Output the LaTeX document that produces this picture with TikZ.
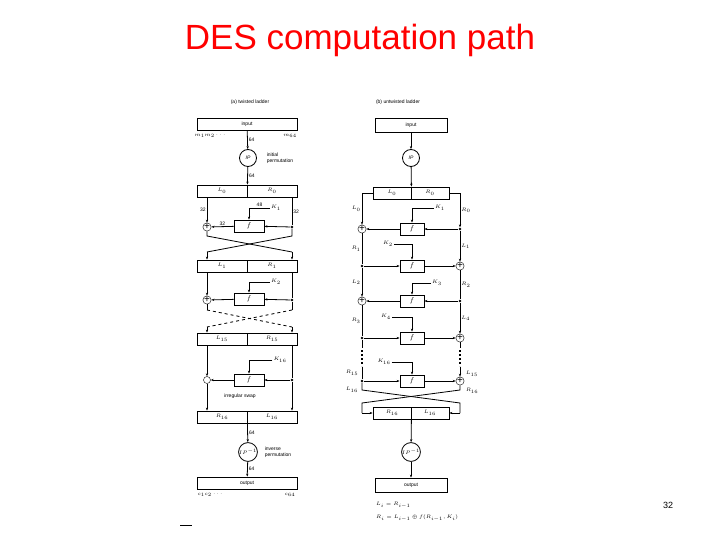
\documentclass[tikz,border=0pt]{standalone}
\usepackage{fontspec}
\setmainfont{Liberation Sans}
\usetikzlibrary{arrows.meta}
\begin{document}
\begin{tikzpicture}[x=1pt,y=-1pt,
  bx/.style={draw,thick,minimum height=12pt,inner sep=0pt,font=\tiny},
  fb/.style={draw,thick,minimum width=30pt,minimum height=12pt,inner sep=0pt,font=\scriptsize\itshape},
  ipc/.style={draw,thick,circle,minimum size=17pt,inner sep=0pt,font=\tiny\itshape},
  xo/.style={draw,circle,minimum size=7pt,inner sep=0pt},
  dt/.style={circle,fill,inner sep=1pt},
  lb/.style={font=\tiny,inner sep=1pt},
  ar/.style={-{Stealth[length=3pt]},thick},
  ln/.style={thick}]
\useasboundingbox (0,0) rectangle (720,540);
\node[text=red,font=\fontsize{35}{40}\selectfont] (title) at (360,40) {DES computation path};
\node[font=\small] (pg) at (668,505) {32};
\node[lb] (t1) at (250,102) {(a) twisted ladder};
\node[lb] (t2) at (398,102) {(b) untwisted ladder};
%% LEFT
\node[bx,minimum width=100pt] (in1) at (247,124) {input};
\node[lb] (m1) at (210,136) {$m_1 m_2\cdots$};
\node[lb] (m64) at (290,136) {$m_{64}$};
\node[ipc] (ip1) at (248,158) {IP};
\node[lb,align=left] (ipl) at (280,158) {initial\\permutation};
\draw[ar] (in1) -- node[lb,right]{64} (ip1);
\node[bx,minimum width=50pt] (l0) at (222,191) {$L_0$};
\node[bx,minimum width=50pt] (r0) at (272,191) {$R_0$};
\draw[ar] (ip1) -- node[lb,right]{64} (l0.north east);
\node[fb] (f1) at (249,226) {$f$};
\node[lb] (k1) at (276,208) {$K_1$};
\draw[ar] (k1.west) -- node[lb,above]{48} (249,208) -- (f1);
\node[xo] (x1) at (207,227) {+};
\node[dt] (d1) at (292,227) {};
\draw[ln] (r0.south -| d1) -- node[lb,right]{32} (d1);
\draw[ar] (d1) -- (f1);
\draw[ar] (l0.south -| x1) -- node[lb,left]{32} (x1);
\draw[ar] (f1) -- node[lb,above]{32} (x1);
\node[bx,minimum width=50pt] (l1) at (222,266) {$L_1$};
\node[bx,minimum width=50pt] (r1) at (272,266) {$R_1$};
\coordinate (c1a) at (207,236); \coordinate (c1b) at (292,236);
\draw[ln] (x1) -- (c1a) -- (292,252);
\draw[ar] (292,252) -- (r1.north -| d1);
\draw[ln] (d1) -- (c1b) -- (207,252);
\draw[ar] (207,252) -- (l1.north -| x1);
\node[fb] (f2) at (249,299) {$f$};
\node[lb] (k2) at (276,282) {$K_2$};
\draw[ar] (k2.west) -- (249,282) -- (f2);
\node[xo] (x2) at (207,300) {+};
\node[dt] (d2) at (292,300) {};
\draw[ln] (r1.south -| d2) -- (d2);
\draw[ar] (d2) -- (f2);
\draw[ar] (l1.south -| x2) -- (x2);
\draw[ar] (f2) -- (x2);
\node[bx,minimum width=50pt] (l15) at (222,339) {$L_{15}$};
\node[bx,minimum width=50pt] (r15) at (272,339) {$R_{15}$};
\draw[ln] (x2) -- (207,310);
\draw[ln,dashed] (207,310) -- (292,327);
\draw[ln] (d2) -- (292,310);
\draw[ln,dashed] (292,310) -- (207,327);
\draw[ar] (207,327) -- (l15.north -| x2);
\draw[ar] (292,327) -- (r15.north -| d2);
\node[fb] (f16) at (249,380) {$f$};
\node[lb] (k16) at (280,360) {$K_{16}$};
\draw[ar] (k16.west) -- (249,360) -- (f16);
\node[xo] (x16) at (207,380) {};
\node[dt] (d16) at (292,380) {};
\node[lb] (irr) at (240,396) {irregular swap};
\draw[ln] (r15.south -| d16) -- (d16);
\draw[ar] (d16) -- (f16);
\draw[ar] (l15.south -| x16) -- (x16);
\draw[ar] (f16) -- (x16);
\node[bx,minimum width=50pt] (r16) at (222,417) {$R_{16}$};
\node[bx,minimum width=50pt] (l16) at (272,417) {$L_{16}$};
\draw[ar] (x16) -- (r16.north -| x16);
\draw[ar] (d16) -- (l16.north -| d16);
\node[ipc] (ipi1) at (248,452) {$IP^{-1}$};
\node[lb,align=left] (ipil) at (278,452) {inverse\\permutation};
\draw[ar] (r16.south east) -- node[lb,right]{64} (ipi1);
\node[bx,minimum width=100pt] (out1) at (247,483) {output};
\draw[ar] (ipi1) -- node[lb,right]{64} (out1);
\node[lb] (c1) at (210,495) {$c_1 c_2\cdots$};
\node[lb] (c64) at (290,495) {$c_{64}$};
%% RIGHT
\node[bx,minimum width=72pt,minimum height=14pt] (in2) at (411,125) {input};
\node[ipc] (ip2) at (411,158) {IP};
\draw[ar] (in2) -- (ip2);
\node[bx,minimum width=38pt] (bl0) at (392,193) {$L_0$};
\node[bx,minimum width=38pt] (br0) at (430,193) {$R_0$};
\draw[ar] (ip2) -- (bl0.north east);
\node[fb,minimum width=24pt] (g1) at (412,229) {$f$};
\node[xo] (y1) at (362,229) {+};
\node[dt] (e1) at (460,229) {};
\node[lb] (bk1) at (440,208) {$K_1$};
\draw[ar] (bk1.west) -- (412,208) -- (g1);
\draw[ar] (bl0.west) -- (362,193) -- node[lb,left]{$L_0$} (y1);
\draw[ar] (br0.east) -- (460,193) -- node[lb,right]{$R_0$} (e1);
\draw[ar] (e1) -- (g1); \draw[ar] (g1) -- (y1);
\node[fb,minimum width=24pt] (g2) at (412,266) {$f$};
\node[dt] (e2) at (362,266) {};
\node[xo] (y2) at (460,266) {+};
\node[lb] (bk2) at (388,244) {$K_2$};
\draw[ar] (bk2.east) -- (412,244) -- (g2);
\draw[ln] (y1) -- node[lb,left]{$R_1$} (e2);
\draw[ar] (e1) -- node[lb,right]{$L_1$} (y2);
\draw[ar] (e2) -- (g2); \draw[ar] (g2) -- (y2);
\node[fb,minimum width=24pt] (g3) at (412,301) {$f$};
\node[xo] (y3) at (362,301) {+};
\node[dt] (e3) at (460,301) {};
\node[lb] (bk3) at (437,283) {$K_3$};
\draw[ar] (bk3.west) -- (412,283) -- (g3);
\draw[ar] (e2) -- node[lb,left]{$L_2$} (y3);
\draw[ln] (y2) -- node[lb,right]{$R_2$} (e3);
\draw[ar] (e3) -- (g3); \draw[ar] (g3) -- (y3);
\node[fb,minimum width=24pt] (g4) at (412,338) {$f$};
\node[dt] (e4) at (362,338) {};
\node[xo] (y4) at (460,338) {+};
\node[lb] (bk4) at (386,317) {$K_4$};
\draw[ar] (bk4.east) -- (412,317) -- (g4);
\draw[ln] (y3) -- node[lb,left]{$R_3$} (e4);
\draw[ar] (e3) -- node[lb,right]{$L_4$} (y4);
\draw[ar] (e4) -- (g4); \draw[ar] (g4) -- (y4);
\draw[ln] (e4) -- (362,348); \draw[ln] (y4) -- (460,348);
\draw[line width=1.5pt,dash pattern=on 2pt off 2pt] (362,350) -- (362,366);
\draw[line width=1.5pt,dash pattern=on 2pt off 2pt] (460,350) -- (460,366);
\node[fb,minimum width=24pt] (g16) at (412,381) {$f$};
\node[dt] (e16) at (362,381) {};
\node[xo] (y16) at (460,381) {+};
\node[lb] (bk16) at (384,362) {$K_{16}$};
\draw[ar] (bk16.east) -- (412,362) -- (g16);
\draw[ln] (362,367) -- (e16); \draw[ar] (460,367) -- (y16);
\draw[ar] (e16) -- (g16); \draw[ar] (g16) -- (y16);
\node[lb] (r15b) at (352,373) {$R_{15}$};
\node[lb] (l15b) at (472,374) {$L_{15}$};
\node[lb] (l16b) at (352,390) {$L_{16}$};
\node[lb] (r16b) at (472,391) {$R_{16}$};
\node[bx,minimum width=38pt] (br16) at (392,413) {$R_{16}$};
\node[bx,minimum width=38pt] (bl16) at (430,413) {$L_{16}$};
\draw[ln] (e16) -- (362,390) -- (460,403) -- (460,413);
\draw[ar] (460,413) -- (bl16.east);
\draw[ln] (y16) -- (460,390) -- (362,403) -- (362,413);
\draw[ar] (362,413) -- (br16.west);
\node[ipc] (ipi2) at (411,452) {$IP^{-1}$};
\draw[ar] (br16.south east) -- (ipi2);
\node[bx,minimum width=72pt,minimum height=14pt] (out2) at (411,485) {output};
\draw[ar] (ipi2) -- (out2);
\node[lb,anchor=west] (eq1) at (375,505) {$L_i = R_{i-1}$};
\node[lb,anchor=west] (eq2) at (375,518) {$R_i = L_{i-1}\oplus f(R_{i-1},K_i)$};
\draw (180,525) -- (192,525);
\end{tikzpicture}
\end{document}
